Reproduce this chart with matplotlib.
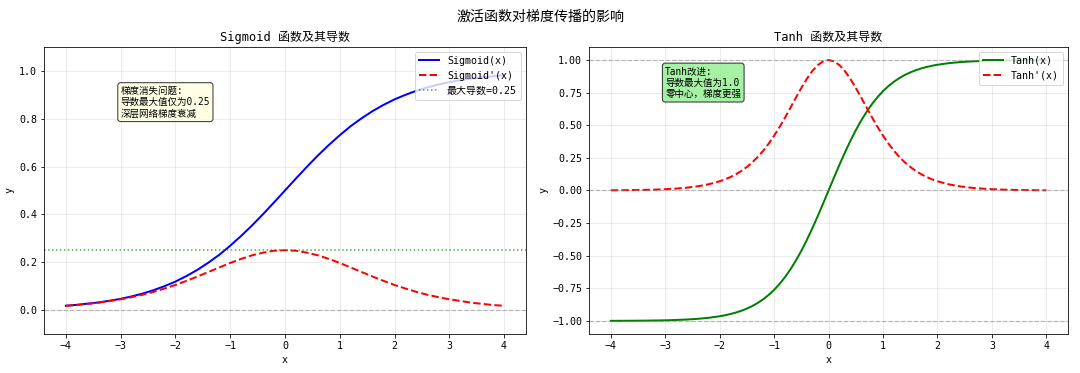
import matplotlib
matplotlib.use("Agg")
import matplotlib.pyplot as plt

plt.rcParams['font.family'] = ['DejaVu Sans Mono', 'Noto Sans CJK SC', 'DejaVu Sans']
plt.rcParams['axes.unicode_minus'] = True

# ---- data ----
x_vals = [-4.0, -3.8, -3.6, -3.4, -3.2, -3.0, -2.8, -2.6, -2.4, -2.2, -2.0,
          -1.8, -1.6, -1.4, -1.2, -1.0, -0.8, -0.6, -0.4, -0.2, 0.0,
          0.2, 0.4, 0.6, 0.8, 1.0, 1.2, 1.4, 1.6, 1.8, 2.0,
          2.2, 2.4, 2.6, 2.8, 3.0, 3.2, 3.4, 3.6, 3.8, 4.0]

sigmoid_vals = [0.018, 0.022, 0.027, 0.032, 0.039, 0.047, 0.057, 0.069, 0.083, 0.100, 0.119,
                0.142, 0.168, 0.198, 0.231, 0.269, 0.310, 0.354, 0.401, 0.450, 0.500,
                0.550, 0.599, 0.646, 0.690, 0.731, 0.769, 0.802, 0.832, 0.858, 0.881,
                0.900, 0.917, 0.931, 0.943, 0.953, 0.961, 0.968, 0.973, 0.978, 0.982]

sigmoid_deriv_vals = [0.018, 0.021, 0.026, 0.031, 0.038, 0.045, 0.054, 0.064, 0.076, 0.090, 0.105,
                      0.122, 0.140, 0.159, 0.178, 0.197, 0.214, 0.229, 0.240, 0.248, 0.250,
                      0.248, 0.240, 0.229, 0.214, 0.197, 0.178, 0.159, 0.140, 0.122, 0.105,
                      0.090, 0.076, 0.064, 0.054, 0.045, 0.038, 0.031, 0.026, 0.021, 0.018]

tanh_x = [-4.0, -3.8, -3.6, -3.4, -3.2, -3.0, -2.8, -2.6, -2.4, -2.2,
          -2.0, -1.9, -1.8, -1.7, -1.6, -1.5, -1.4, -1.3, -1.2, -1.1,
          -1.0, -0.9, -0.8, -0.7, -0.6, -0.5, -0.4, -0.3, -0.2, -0.1,
          0.0, 0.1, 0.2, 0.3, 0.4, 0.5, 0.6, 0.7, 0.8, 0.9,
          1.0, 1.1, 1.2, 1.3, 1.4, 1.5, 1.6, 1.7, 1.8, 1.9,
          2.0, 2.2, 2.4, 2.6, 2.8, 3.0, 3.2, 3.4, 3.6, 3.8, 4.0]

tanh_vals = [-0.9993, -0.9990, -0.9985, -0.9978, -0.9967, -0.9951, -0.9926, -0.9890, -0.9837, -0.9757,
             -0.9640, -0.9562, -0.9468, -0.9354, -0.9217, -0.9051, -0.8854, -0.8617, -0.8337, -0.8005,
             -0.7616, -0.7163, -0.6640, -0.6044, -0.5370, -0.4621, -0.3800, -0.2913, -0.1974, -0.0997,
             0.0, 0.0997, 0.1974, 0.2913, 0.3800, 0.4621, 0.5370, 0.6044, 0.6640, 0.7163,
             0.7616, 0.8005, 0.8337, 0.8617, 0.8854, 0.9051, 0.9217, 0.9354, 0.9468, 0.9562,
             0.9640, 0.9757, 0.9837, 0.9890, 0.9926, 0.9951, 0.9967, 0.9978, 0.9985, 0.9990, 0.9993]

tanh_deriv_vals = [0.0013, 0.0020, 0.0030, 0.0045, 0.0066, 0.0099, 0.0147, 0.0218, 0.0324, 0.0479,
                   0.0707, 0.0856, 0.1036, 0.1250, 0.1505, 0.1807, 0.2162, 0.2574, 0.3050, 0.3592,
                   0.4200, 0.4869, 0.5591, 0.6347, 0.7116, 0.7864, 0.8556, 0.9151, 0.9610, 0.9901,
                   1.0, 0.9901, 0.9610, 0.9151, 0.8556, 0.7864, 0.7116, 0.6347, 0.5591, 0.4869,
                   0.4200, 0.3592, 0.3050, 0.2574, 0.2162, 0.1807, 0.1505, 0.1250, 0.1036, 0.0856,
                   0.0707, 0.0479, 0.0324, 0.0218, 0.0147, 0.0099, 0.0066, 0.0045, 0.0030, 0.0020, 0.0013]

sigmoid_max_deriv = 0.25
tanh_ref_lines = [1, 0, -1]

suptitle = '激活函数对梯度传播的影响'
title_left = 'Sigmoid 函数及其导数'
title_right = 'Tanh 函数及其导数'
labels_left = ['Sigmoid(x)', "Sigmoid'(x)", '最大导数=0.25']
labels_right = ['Tanh(x)', "Tanh'(x)"]
note_left = '梯度消失问题:\n导数最大值仅为0.25\n深层网络梯度衰减'
note_right = 'Tanh改进:\n导数最大值为1.0\n零中心，梯度更强'

# ---- figure ----
fig = plt.figure(figsize=(15, 373 / 72), dpi=72)
ax1 = fig.add_axes([0.0407, 0.1046, 0.4463, 0.7694])
ax2 = fig.add_axes([0.5454, 0.1046, 0.4436, 0.7694])

fig.suptitle(suptitle, fontsize=14, y=0.975)

# Left: sigmoid
ax1.plot(x_vals, sigmoid_vals, 'b-', lw=2, label=labels_left[0])
ax1.plot(x_vals, sigmoid_deriv_vals, 'r--', lw=2, label=labels_left[1])
ax1.axhline(y=sigmoid_max_deriv, color='g', linestyle=':', lw=1.5, alpha=0.7, label=labels_left[2])
ax1.axhline(y=0, color='gray', linestyle='--', lw=1.2, alpha=0.5)
ax1.set_ylim(-0.1, 1.1)
ax1.set_title(title_left, fontsize=12)
ax1.set_xlabel('x', fontsize=10)
ax1.set_ylabel('y', fontsize=10)
ax1.grid(True, alpha=0.3)
ax1.legend(loc='upper right', fontsize=10)
ax1.text(-3, 0.8, note_left, fontsize=9.5, va='bottom',
         bbox=dict(boxstyle='round', facecolor='lightyellow', alpha=0.8))

# Right: tanh
ax2.plot(tanh_x, tanh_vals, 'g-', lw=2, label=labels_right[0])
ax2.plot(tanh_x, tanh_deriv_vals, 'r--', lw=2, label=labels_right[1])
for yv in tanh_ref_lines:
    ax2.axhline(y=yv, color='gray', linestyle='--', lw=1.2, alpha=0.5)
ax2.set_ylim(-1.1, 1.1)
ax2.set_title(title_right, fontsize=12)
ax2.set_xlabel('x', fontsize=10)
ax2.set_ylabel('y', fontsize=10)
ax2.grid(True, alpha=0.3)
ax2.legend(loc='upper right', fontsize=10)
ax2.text(-3, 0.7, note_right, fontsize=9.5, va='bottom',
         bbox=dict(boxstyle='round', facecolor='lightgreen', alpha=0.8))

for ax in (ax1, ax2):
    ax.tick_params(labelsize=10)

fig.savefig('out.png', dpi=72)
